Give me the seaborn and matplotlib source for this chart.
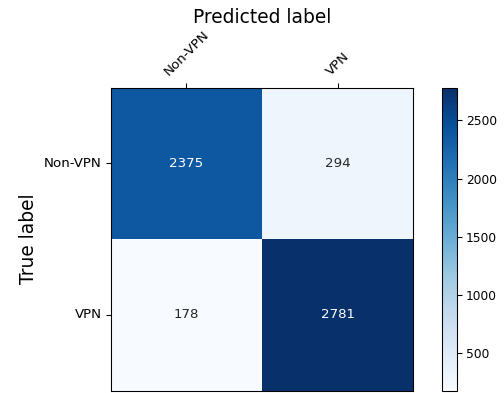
import matplotlib
matplotlib.use("Agg")
import matplotlib.pyplot as plt
import seaborn as sns
import pandas as pd

classes = ["Non-VPN", "VPN"]
row_non_vpn = [2375, 294]
row_vpn = [178, 2781]
cbar_ticks = [500, 1000, 1500, 2000, 2500]

cm = pd.DataFrame([row_non_vpn, row_vpn], index=classes, columns=classes)

plt.rcParams["font.family"] = ["DejaVu Sans"]

fig = plt.figure(figsize=(504 / 96, 393 / 96), dpi=96)
ax = fig.add_axes([0.220, 0.006, 0.600, 0.771])
cax = fig.add_axes([0.876, 0.006, 0.030, 0.771])

sns.heatmap(cm, ax=ax, cbar_ax=cax, cmap="Blues", annot=True, fmt="d",
            annot_kws={"fontsize": 10}, cbar=True)

ax.xaxis.tick_top()
ax.xaxis.set_label_position("top")
ax.set_xlabel("Predicted label", fontsize=14, labelpad=4)
ax.set_ylabel("True label", fontsize=14, labelpad=4)
ax.tick_params(axis="both", which="both", length=3.5, width=0.8, labelsize=10,
               left=True, top=True, bottom=False, color="black",
               labelcolor="black")
plt.setp(ax.get_xticklabels(), rotation=45, ha="center")
plt.setp(ax.get_yticklabels(), rotation=0)
for s in ax.spines.values():
    s.set_visible(True)
    s.set_color("black")
    s.set_linewidth(0.8)

cb = ax.collections[0].colorbar
cb.set_ticks(cbar_ticks)
cb.ax.tick_params(labelsize=9.2, length=3.5, width=0.8, right=True,
                  color="black", labelcolor="black", pad=3.5)
cb.outline.set_visible(True)
cb.outline.set_edgecolor("black")
cb.outline.set_linewidth(0.8)

fig.savefig("out.png", dpi=96)
